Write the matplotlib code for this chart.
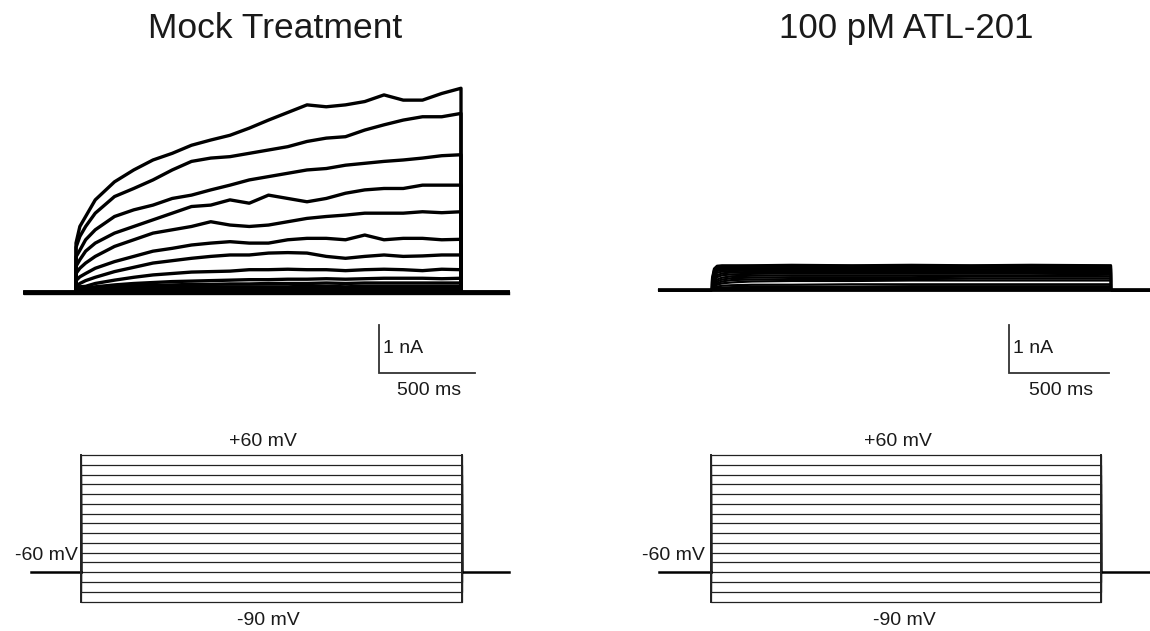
import matplotlib
matplotlib.use("Agg")
import matplotlib.pyplot as plt

plt.rcParams["font.family"] = ["Liberation Sans", "DejaVu Sans"]

# sweep timing (ms)
HOLD_START = -265
STEP_END = 2000
HOLD_END = 2245

# voltage protocol (mV)
HOLD_V = -60
STEP_V = [-90, -80, -70, -60, -50, -40, -30, -20, -10, 0, 10, 20, 30, 40, 50, 60]

# mock treatment currents (nA), sampled at MOCK_T during the step
MOCK_T = [0, 20, 50, 100, 200, 300, 400, 500, 600, 700, 800, 900, 1000,
          1100, 1200, 1300, 1400, 1500, 1600, 1700, 1800, 1900, 2000]
mock_p60 = [1.04, 1.39, 1.60, 1.95, 2.33, 2.58, 2.79, 2.93, 3.10, 3.21, 3.31, 3.46,
            3.63, 3.79, 3.95, 3.91, 3.95, 4.02, 4.16, 4.05, 4.05, 4.19, 4.30]
mock_p50 = [0.95, 1.18, 1.39, 1.67, 2.02, 2.19, 2.37, 2.58, 2.76, 2.83, 2.86, 2.93,
            3.00, 3.07, 3.18, 3.25, 3.28, 3.42, 3.53, 3.63, 3.70, 3.70, 3.77]
mock_p40 = [0.75, 0.89, 1.11, 1.32, 1.60, 1.74, 1.84, 1.98, 2.05, 2.16, 2.26, 2.37,
            2.44, 2.51, 2.58, 2.61, 2.68, 2.72, 2.76, 2.79, 2.83, 2.88, 2.90]
mock_p30 = [0.55, 0.69, 0.87, 1.04, 1.25, 1.39, 1.53, 1.67, 1.81, 1.84, 1.95, 1.88,
            2.05, 1.98, 1.91, 1.98, 2.09, 2.16, 2.19, 2.19, 2.26, 2.26, 2.26]
mock_p20 = [0.40, 0.51, 0.62, 0.76, 0.97, 1.11, 1.25, 1.32, 1.39, 1.49, 1.42, 1.39,
            1.42, 1.49, 1.56, 1.60, 1.63, 1.67, 1.67, 1.67, 1.70, 1.68, 1.70]
mock_p10 = [0.25, 0.33, 0.40, 0.51, 0.65, 0.76, 0.87, 0.93, 1.00, 1.04, 1.07, 1.04,
            1.04, 1.11, 1.14, 1.14, 1.11, 1.21, 1.11, 1.14, 1.14, 1.11, 1.12]
mock_0 = [0.12, 0.19, 0.25, 0.32, 0.44, 0.53, 0.62, 0.67, 0.72, 0.76, 0.79, 0.79,
          0.83, 0.84, 0.83, 0.76, 0.72, 0.76, 0.79, 0.76, 0.77, 0.79, 0.79]
mock_m10 = [0.06, 0.12, 0.13, 0.19, 0.26, 0.32, 0.37, 0.40, 0.43, 0.44, 0.45, 0.48,
            0.48, 0.49, 0.48, 0.48, 0.46, 0.48, 0.49, 0.48, 0.46, 0.49, 0.48]
mock_m20 = [0.04, 0.07, 0.09, 0.12, 0.16, 0.19, 0.21, 0.23, 0.24, 0.25, 0.26, 0.27,
            0.27, 0.28, 0.28, 0.29, 0.28, 0.29, 0.30, 0.30, 0.30, 0.29, 0.30]
mock_m30 = [0.03, 0.05, 0.07, 0.09, 0.12, 0.14, 0.15, 0.16, 0.17, 0.17, 0.18, 0.18,
            0.19, 0.19, 0.19, 0.20, 0.19, 0.20, 0.20, 0.20, 0.20, 0.20, 0.20]
mock_m40 = [0.02, 0.04, 0.05, 0.06, 0.08, 0.09, 0.10, 0.11, 0.11, 0.12, 0.12, 0.12,
            0.12, 0.12, 0.13, 0.13, 0.12, 0.13, 0.13, 0.13, 0.13, 0.13, 0.13]
mock_m50 = [0.01, 0.02, 0.03, 0.04, 0.05, 0.06, 0.06, 0.07, 0.07, 0.07, 0.08, 0.08,
            0.08, 0.08, 0.08, 0.08, 0.08, 0.08, 0.08, 0.08, 0.08, 0.08, 0.08]
mock_m60 = [0.01, 0.01, 0.02, 0.03, 0.03, 0.04, 0.04, 0.04, 0.05, 0.05, 0.05, 0.05,
            0.05, 0.05, 0.05, 0.05, 0.05, 0.05, 0.05, 0.05, 0.05, 0.05, 0.05]
mock_m70 = [0.00, 0.01, 0.01, 0.02, 0.02, 0.02, 0.03, 0.03, 0.03, 0.03, 0.03, 0.03,
            0.03, 0.03, 0.03, 0.03, 0.03, 0.03, 0.03, 0.03, 0.03, 0.03, 0.03]
mock_m80 = [0.00, 0.00, 0.00, 0.01, 0.01, 0.01, 0.01, 0.01, 0.01, 0.01, 0.01, 0.01,
            0.01, 0.01, 0.01, 0.01, 0.01, 0.01, 0.01, 0.01, 0.01, 0.01, 0.01]
mock_m90 = [-0.01, -0.01, -0.01, -0.01, -0.01, -0.01, -0.01, -0.01, -0.01, -0.01, -0.01, -0.01,
            -0.01, -0.01, -0.01, -0.01, -0.01, -0.01, -0.01, -0.01, -0.01, -0.01, -0.01]

# 100 pM ATL-201 currents (nA), sampled at ATL_T
ATL_T = [0, 10, 25, 50, 100, 200, 400, 700, 1000, 1300, 1600, 2000]
atl_p60 = [0.25, 0.45, 0.51, 0.52, 0.52, 0.52, 0.53, 0.52, 0.53, 0.52, 0.53, 0.52]
atl_p50 = [0.22, 0.42, 0.49, 0.50, 0.50, 0.51, 0.51, 0.51, 0.50, 0.51, 0.51, 0.51]
atl_p40 = [0.20, 0.38, 0.46, 0.48, 0.48, 0.49, 0.49, 0.48, 0.49, 0.49, 0.48, 0.49]
atl_p30 = [0.18, 0.35, 0.43, 0.45, 0.46, 0.46, 0.46, 0.46, 0.46, 0.47, 0.46, 0.46]
atl_p20 = [0.16, 0.32, 0.40, 0.42, 0.43, 0.43, 0.44, 0.43, 0.44, 0.44, 0.43, 0.44]
atl_p10 = [0.14, 0.28, 0.36, 0.39, 0.40, 0.41, 0.41, 0.41, 0.41, 0.41, 0.41, 0.41]
atl_0 = [0.12, 0.24, 0.31, 0.35, 0.37, 0.38, 0.38, 0.38, 0.38, 0.38, 0.38, 0.38]
atl_m10 = [0.10, 0.20, 0.27, 0.31, 0.33, 0.34, 0.35, 0.35, 0.35, 0.35, 0.35, 0.35]
atl_m20 = [0.08, 0.16, 0.22, 0.26, 0.29, 0.30, 0.31, 0.31, 0.31, 0.31, 0.31, 0.32]
atl_m30 = [0.07, 0.13, 0.18, 0.22, 0.25, 0.26, 0.27, 0.27, 0.27, 0.28, 0.28, 0.28]
atl_m40 = [0.06, 0.10, 0.14, 0.18, 0.21, 0.22, 0.23, 0.23, 0.23, 0.24, 0.24, 0.24]
atl_m50 = [0.05, 0.08, 0.11, 0.14, 0.16, 0.18, 0.19, 0.19, 0.20, 0.20, 0.20, 0.20]
atl_m60 = [0.03, 0.05, 0.07, 0.09, 0.10, 0.11, 0.11, 0.12, 0.12, 0.12, 0.12, 0.12]
atl_m70 = [0.02, 0.03, 0.04, 0.05, 0.06, 0.07, 0.07, 0.07, 0.08, 0.08, 0.08, 0.08]
atl_m80 = [0.01, 0.02, 0.02, 0.03, 0.03, 0.04, 0.04, 0.04, 0.04, 0.04, 0.04, 0.04]
atl_m90 = [0.00, 0.00, 0.00, 0.00, 0.00, 0.00, 0.00, 0.00, 0.00, 0.00, 0.00, 0.00]

mock_traces = [mock_p60, mock_p50, mock_p40, mock_p30, mock_p20, mock_p10, mock_0, mock_m10,
               mock_m20, mock_m30, mock_m40, mock_m50, mock_m60, mock_m70, mock_m80, mock_m90]
atl_traces = [atl_p60, atl_p50, atl_p40, atl_p30, atl_p20, atl_p10, atl_0, atl_m10,
              atl_m20, atl_m30, atl_m40, atl_m50, atl_m60, atl_m70, atl_m80, atl_m90]

W, H = 1150, 631
TXT = "#1a1a1a"
FS = 14
fig = plt.figure(figsize=(W / 100, H / 100), dpi=100)


def px_axes(x0, y0, x1, y1):
    ax = fig.add_axes([x0 / W, 1 - y1 / H, (x1 - x0) / W, (y1 - y0) / H])
    ax.axis("off")
    return ax


def trace_panel(box, onset, offset, base, nA_px, times, traces, lw, sb_x, sb_top):
    x0, y0, x1, y1 = box
    ax = px_axes(*box)
    k = (offset - onset) / STEP_END
    ax.set_xlim((x0 - onset) / k, (x1 - onset) / k)
    ax.set_ylim((base - y1) / nA_px, (base - y0) / nA_px)
    for cur in traces:
        t = [HOLD_START, 0] + times + [STEP_END, HOLD_END]
        i = [0, 0] + cur + [0, 0]
        ax.plot(t, i, color="black", lw=lw, solid_joinstyle="round")
    ax.plot([HOLD_START, HOLD_END], [0, 0], color="black", lw=2.0)
    # scale bar: 1 nA / 500 ms
    sx = (sb_x - onset) / k
    top = (base - sb_top) / nA_px
    bot = top - 1
    ax.plot([sx, sx, sx + 500], [top, bot, bot], color="#333333", lw=1.3,
            solid_joinstyle="miter", clip_on=False)
    ax.text(sx + 4 / k, bot + 0.5, "1 nA", fontsize=FS, color=TXT,
            ha="left", va="center")
    ax.text(sx + 250 + 2 / k, bot - 18 / nA_px, "500 ms", fontsize=FS, color=TXT,
            ha="center", va="center")
    return ax


def protocol_panel(box, onset, offset, lab_hi, lab_lo, lab_hold):
    x0, y0, x1, y1 = box
    ax = px_axes(*box)
    k = (offset - onset) / STEP_END
    kv = (601.5 - 455) / (max(STEP_V) - min(STEP_V))
    ax.set_xlim((x0 - onset) / k, (x1 - onset) / k)
    ax.set_ylim(max(STEP_V) + (455 - y1) / kv, max(STEP_V) + (455 - y0) / kv)
    for v in STEP_V:
        ax.plot([0, 0, STEP_END, STEP_END], [HOLD_V, v, v, HOLD_V],
                color="#222222", lw=0.9)
    ax.plot([HOLD_START, 0], [HOLD_V, HOLD_V], color="black", lw=1.8)
    ax.plot([STEP_END, HOLD_END], [HOLD_V, HOLD_V], color="black", lw=1.8)
    ax.plot([0, 0], [min(STEP_V), max(STEP_V)], color="#222222", lw=1.4)
    ax.plot([STEP_END, STEP_END], [min(STEP_V), max(STEP_V)], color="#222222", lw=1.4)
    ax.text((lab_hi - onset) / k, max(STEP_V) + 13 / kv, "+60 mV", fontsize=FS,
            color=TXT, ha="center", va="center")
    ax.text((lab_lo - onset) / k, min(STEP_V) - 19 / kv, "-90 mV", fontsize=FS,
            color=TXT, ha="center", va="center")
    ax.text((lab_hold - onset) / k, HOLD_V + 17 / kv, "-60 mV", fontsize=FS,
            color=TXT, ha="right", va="center")
    return ax


# current traces
trace_panel((0, 55, 560, 410), 76, 461, 292.5, 47.5, MOCK_T, mock_traces, 2.4, 379, 325)
trace_panel((600, 55, 1150, 410), 712, 1111, 290, 47.5, ATL_T, atl_traces, 1.6, 1009, 325)

# voltage protocols
protocol_panel((0, 425, 570, 631), 81, 462, 263, 268, 78)
protocol_panel((600, 425, 1150, 631), 711, 1101, 898, 904, 705)

fig.text(275 / W, 1 - 38 / H, "Mock Treatment", fontsize=25.5, color=TXT,
         ha="center", va="baseline")
fig.text(906 / W, 1 - 38 / H, "100 pM ATL-201", fontsize=25, color=TXT,
         ha="center", va="baseline")

fig.savefig("out.png", dpi=100, facecolor="white")
